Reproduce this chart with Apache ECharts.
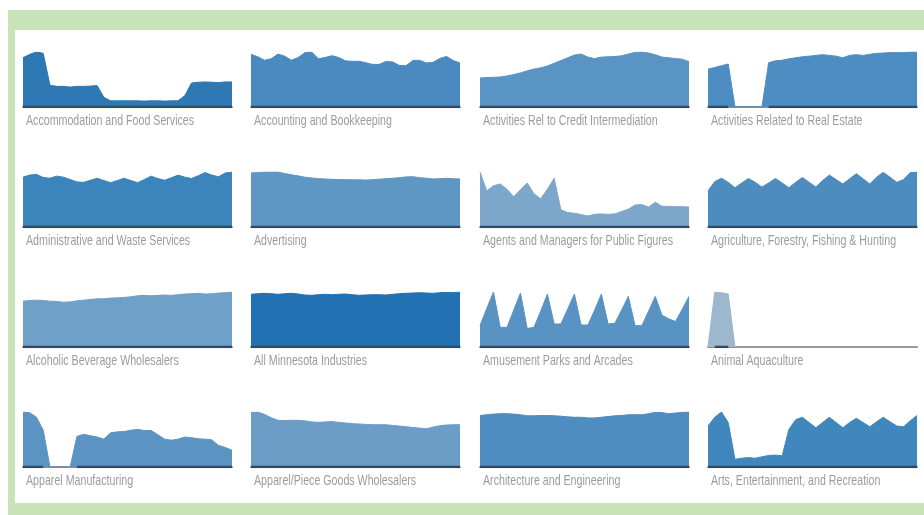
<!DOCTYPE html>
<html>
<head>
<meta charset="utf-8">
<script src="https://cdn.jsdelivr.net/npm/echarts@6/dist/echarts.min.js"></script>
<style>
  html, body { margin: 0; padding: 0; background: #ffffff; }
  #frame { position: absolute; left: 8px; top: 10px; width: 940px; height: 505px; background: #c8e3b8; }
  #inner { position: absolute; left: 15px; top: 30px; width: 930px; height: 473px; background: #ffffff; }
  #chart { position: absolute; left: 0; top: 0; width: 924px; height: 515px; }
</style>
</head>
<body>
<div id="frame"></div>
<div id="inner"></div>
<div id="chart"></div>
<script>
// ---------- data ----------
const industries = [
  'Accommodation and Food Services',
  'Accounting and Bookkeeping',
  'Activities Rel to Credit Intermediation',
  'Activities Related to Real Estate',
  'Administrative and Waste Services',
  'Advertising',
  'Agents and Managers for Public Figures',
  'Agriculture, Forestry, Fishing & Hunting',
  'Alcoholic Beverage Wholesalers',
  'All Minnesota Industries',
  'Amusement Parks and Arcades',
  'Animal Aquaculture',
  'Apparel Manufacturing',
  'Apparel/Piece Goods Wholesalers',
  'Architecture and Engineering',
  'Arts, Entertainment, and Recreation'
];

const periods = ['1','2','3','4','5','6','7','8','9','10','11','12','13','14','15','16',
                 '17','18','19','20','21','22','23','24','25','26','27','28','29','30','31','32'];

const accommodation = [47.7, 51, 53.3, 52, 21, 20, 20, 19.3, 20, 20, 20.3, 20.7, 9.3, 6, 6, 6,
                       6, 6, 5.7, 6, 6, 5.7, 6, 6, 11, 23.3, 24, 24.3, 24, 23.7, 24.3, 24.3];
const accounting = [51, 48.7, 45.3, 46.7, 51.3, 49.3, 45.3, 48, 52.7, 53.3, 46.7, 48, 49.7, 48, 44.7, 44.3,
                    44.3, 43, 41.3, 41.3, 44, 43.7, 40.3, 40, 45, 45.3, 42.7, 43.3, 47, 49, 45, 42.7];
const creditIntermediation = [28.3, 28.7, 29, 29.3, 30.3, 31.7, 33.3, 35.3, 37, 38.3, 40, 42.7, 45.3, 48, 50.7, 51.7,
                              48.7, 47.3, 48.7, 49, 49.3, 50, 51.7, 53.3, 53.7, 52.7, 51, 48.7, 48, 47.3, 46.7, 44.3];
const realEstate = [36.7, 38.3, 40, 41.7, 0, 0, 0, 0, 0, 43, 44.7, 45.3, 46.7, 47.7, 48.7, 49.3,
                    50, 50.7, 50, 49.3, 47.7, 50, 50.7, 50, 51, 52, 52.3, 52.7, 52.7, 52.7, 53.3, 53.3];
const administrative = [48.3, 50.3, 51, 48, 47.3, 49.3, 48.3, 46, 43.7, 43.3, 45.3, 47.3, 45, 43, 45, 47.3,
                        45, 43, 46, 49.3, 47, 45.3, 47.7, 50.3, 48.3, 47, 49.7, 52.7, 50.3, 48.7, 52.3, 53.3];
const advertising = [51.7, 52.3, 52.7, 52.7, 52.7, 51.3, 50, 49, 47.7, 47, 46.3, 46, 45.7, 45.5, 45.3, 45.3,
                     45.2, 45, 45.3, 45.8, 46.3, 46.7, 47.3, 48, 48.2, 47.3, 46.7, 46, 46.3, 46.7, 46.3, 46];
const agents = [53.3, 35, 40, 41.7, 36.7, 29.3, 36, 42.7, 32.3, 27.3, 36.7, 47.3, 16.7, 14, 13.3, 12,
                10.7, 12.3, 12.7, 12.3, 12.7, 15, 17.3, 21.3, 21.7, 19.3, 24, 20, 20, 19.7, 19.7, 19.3];
const agriculture = [35, 44, 47.3, 43.3, 38, 42.7, 47, 43.3, 38.7, 42.7, 47, 42.7, 38, 43.3, 48, 43.3,
                     38.7, 45, 50.3, 46, 41.7, 46.7, 51.7, 46.7, 41.7, 48.3, 53, 48.3, 43.3, 46, 52.7, 53.3];
const alcoholic = [45, 45.7, 46, 45.7, 45, 44.7, 44, 44.3, 45.3, 46, 46.7, 47.3, 47.3, 48, 48.3, 48.7,
                   49.3, 50.3, 50.7, 50.3, 50.7, 51, 50.7, 51.3, 52, 52.3, 52.7, 52, 52.3, 53, 53.3, 54];
const allMinnesota = [52.7, 53.3, 53.7, 53.3, 52.7, 53.3, 53.7, 53, 52, 51.7, 52.3, 52.7, 52.3, 52.7, 53, 52.3,
                      51.7, 52, 52.3, 52.3, 52, 52.7, 53.3, 53.7, 54, 54.3, 54, 53.7, 54.3, 54.7, 54.3, 55];
const amusement = [20.7, 37.3, 53.3, 19, 19, 35.7, 52.3, 18, 19, 34.7, 51.3, 22.3, 22.3, 36.7, 51.3, 21.3,
                   21.3, 35.7, 51.3, 22.3, 23, 35.7, 49, 20.7, 20.7, 34.7, 49, 30.7, 27.3, 24.7, 36.7, 49];
const aquaculture = [0, 55, 54.3, 53, 0, 0, 0, 0, 0, 0, 0, 0, 0, 0, 0, 0,
                     0, 0, 0, 0, 0, 0, 0, 0, 0, 0, 0, 0, 0, 0, 0, 0];
const apparelMfg = [52.7, 52, 47.7, 35.3, 0, 0, 0, 0, 29.3, 31.3, 30, 28.7, 26.7, 32.7, 33.7, 34,
                    35.3, 36, 35, 35, 31, 26.7, 25.7, 26.7, 28.7, 28, 27, 26.7, 26, 20.7, 18.7, 16];
const apparelWholesale = [52.7, 53.3, 51, 47.7, 45.3, 45, 45.3, 45.3, 44.7, 43.7, 43.3, 43.7, 44, 43.3, 42.7, 42,
                          41.7, 41.3, 41, 41, 41, 40.3, 39.7, 39, 38.3, 37.7, 37, 38.7, 40, 40.7, 41, 41];
const architecture = [49, 49.7, 50.3, 50.7, 50.7, 50.3, 49.7, 48.7, 48.7, 49, 49, 48.7, 48.3, 47.7, 47.3, 47.3,
                      46.7, 46.7, 47.3, 48, 48.7, 49, 49.7, 49.7, 49.7, 50.7, 52, 51.7, 50.7, 51.3, 52, 52.3];
const arts = [39, 47.3, 52.3, 42.3, 7.3, 8.3, 9, 8.3, 9.7, 11, 11.3, 10.7, 35.7, 45, 47.3, 42.3,
              37.3, 42.3, 47.3, 42.3, 37.3, 42.3, 46.3, 42.3, 38.3, 43, 47.3, 43, 39, 38.3, 44, 49];

const seriesValues = [accommodation, accounting, creditIntermediation, realEstate,
                      administrative, advertising, agents, agriculture,
                      alcoholic, allMinnesota, amusement, aquaculture,
                      apparelMfg, apparelWholesale, architecture, arts];

// ---------- styles ----------
const fillColors = ['#2e78b4', '#4a8ac0', '#5a94c4', '#4e8dc1',
                    '#3b84bc', '#5e96c4', '#7da6cb', '#4d8cbf',
                    '#6fa0c8', '#2272b3', '#5893c3', '#9db7cf',
                    '#5b93c3', '#6c9dc7', '#4f8dc1', '#4087bd'];
const colLefts = [23, 251, 480, 708];
const rowTops = [52, 172, 292, 412];
const plotW = 209, plotH = 55;
const labelFont = "'Liberation Sans', Arial, sans-serif";

const grids = [], xAxes = [], yAxes = [], series = [], labels = [];
industries.forEach(function (name, i) {
  const col = i % 4, row = Math.floor(i / 4);
  const vals = seriesValues[i];
  grids.push({ left: colLefts[col], top: rowTops[row], width: plotW, height: plotH });
  xAxes.push({
    gridIndex: i, type: 'category', data: periods, boundaryGap: false,
    axisLine: { show: true, lineStyle: { color: '#8e8e8e', width: 2 } },
    axisTick: { show: false }, axisLabel: { show: false }, splitLine: { show: false }
  });
  yAxes.push({
    gridIndex: i, type: 'value', min: 0, max: 'dataMax', show: false,
    splitLine: { show: false }
  });
  series.push({
    name: name, type: 'line', xAxisIndex: i, yAxisIndex: i, data: vals,
    symbol: 'none', smooth: false,
    lineStyle: { width: 1, color: fillColors[i] },
    areaStyle: { color: fillColors[i], opacity: 1 },
    silent: true, animation: false
  });
  // dark baseline under the filled parts
  series.push({
    type: 'line', xAxisIndex: i, yAxisIndex: i,
    data: vals.map(function (v) { return v > 0 ? 0 : null; }),
    symbol: 'none', connectNulls: false,
    lineStyle: { width: 2.5, color: '#34495e' },
    silent: true, animation: false, z: 3
  });
  labels.push({
    type: 'text',
    x: colLefts[col] + 3,
    y: rowTops[row] + plotH + 14,
    scaleX: 0.71,
    silent: true,
    style: {
      text: name,
      fill: '#9c9c9c',
      fontSize: 15,
      fontFamily: labelFont,
      verticalAlign: 'middle',
      textVerticalAlign: 'middle'
    }
  });
});

const chart = echarts.init(document.getElementById('chart'), null, { renderer: 'canvas' });
chart.setOption({
  backgroundColor: 'transparent',
  animation: false,
  grid: grids,
  xAxis: xAxes,
  yAxis: yAxes,
  series: series,
  graphic: labels
});
</script>
</body>
</html>
